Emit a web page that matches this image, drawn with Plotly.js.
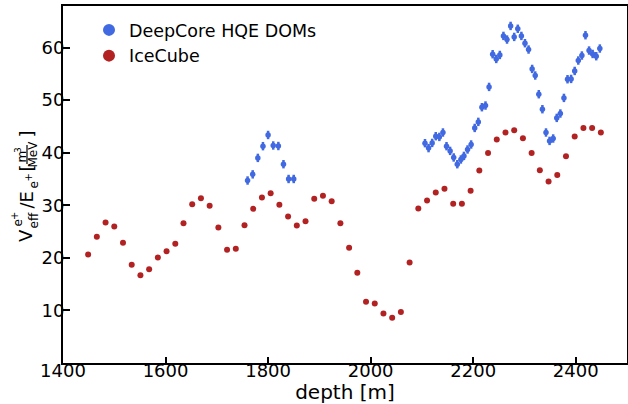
<!DOCTYPE html>
<html><head><meta charset="utf-8">
<script src="https://cdn.plot.ly/plotly-3.0.1.min.js"></script>
<style>html,body{margin:0;padding:0;background:#fff}</style>
</head><body>
<div id="chart" style="width:628px;height:404px"></div>
<script>
// IceCube DOMs
const depthIC = [1449,1466,1483,1500,1517,1534,1551,1568,1585,1602,1619,1635,1652,1669,1686,1703,1720,1737,1754,1771,1788,1805,1822,1839,1856,1873,1890,1907,1924,1941,1958,1974,1991,2008,2025,2042,2059,2076,2093,2110,2127,2144,2161,2178,2195,2212,2229,2246,2263,2280,2297,2314,2330,2347,2364,2381,2398,2415,2432,2449];
const effIC = [20.65,23.99,26.73,25.97,22.85,18.67,16.71,17.85,20.08,21.27,22.66,26.60,30.21,31.35,29.89,25.78,21.52,21.71,26.22,29.32,31.48,32.30,30.08,27.87,26.16,26.98,31.22,31.79,30.78,26.60,21.90,17.15,11.63,11.33,9.43,8.59,9.68,19.13,29.39,30.91,32.43,33.12,30.27,30.27,32.74,36.62,39.96,42.51,43.84,44.28,42.76,39.96,36.67,34.52,35.78,39.33,43.08,44.71,44.71,43.84];
// DeepCore HQE DOMs
const depthDC = [1760,1770,1780,1790,1800,1810,1820,1830,1840,1850,
  2106,2113,2120,2127,2134,2141,2148,2155,2162,2169,2176,2182,2189,2196,2203,2210,2217,2224,2231,2238,2245,2252,2259,2266,2273,2280,2287,2294,2301,2308,2315,2321,2328,2335,2342,2349,2356,2363,2370,2377,2384,2391,2398,2405,2412,2419,2426,2433,2440,2447];
const effDC = [34.71,35.88,39.01,41.24,43.37,41.37,41.27,37.81,35.00,35.00,
  41.81,40.87,41.86,43.14,43.00,43.84,41.24,40.34,39.09,37.81,38.71,39.39,40.61,41.56,44.71,45.86,48.65,48.97,52.51,58.73,57.83,58.59,62.21,61.52,64.11,62.02,63.57,62.21,60.82,59.62,55.93,54.68,51.12,48.27,43.84,42.24,42.70,46.62,47.45,50.42,53.97,54.03,55.55,57.53,58.48,62.34,59.43,58.78,58.35,59.81];
const errDC = 0.8;
const xTicks = [1400,1600,1800,2000,2200,2400];
const yTicks = [10,20,30,40,50,60];
const names = ['DeepCore HQE DOMs','IceCube'];
const blue = '#4169E1', red = '#B22222';

const L=63, T=6, W=564, H=357;
const px = x => (x-L)/W;
const py = y => (T+H-y)/H;
const FONT = 'DejaVu Sans';
function lab(text, x, y, size){
  return {text:text, xref:'paper', yref:'paper', x:px(x), y:py(y), xanchor:'center', yanchor:'middle',
    textangle:-90, showarrow:false, font:{family:FONT, size:size, color:'#000'}};
}
const dx = 1.5;
const annotations = [
  lab('V', 24.5+dx, 236, 18),
  lab('e', 16+dx, 223, 12),
  lab('+', 13+dx, 216.5, 10),
  lab('eff', 31.5+dx, 220.5, 12),
  lab('/E', 24.5+dx, 200.5, 18),
  lab('e', 32+dx, 185, 12),
  lab('+', 27+dx, 178, 10),
  lab('[', 24.5+dx, 168.5, 18),
  lab('m', 20+dx, 157, 12),
  lab('3', 16+dx, 150.5, 9),
  lab('MeV', 30.5+dx, 154.5, 12),
  lab(']', 24.5+dx, 134.5, 18)
];

const traces = [
  {x:depthDC, y:effDC, name:names[0], type:'scatter', mode:'markers',
   marker:{color:blue, size:5.5},
   error_y:{type:'constant', value:errDC, color:blue, thickness:2.5, width:0}},
  {x:depthIC, y:effIC, name:names[1], type:'scatter', mode:'markers',
   marker:{color:red, size:6}}
];
const axisCommon = {showline:true, linewidth:2, linecolor:'#000', mirror:true, showgrid:false, zeroline:false,
  ticks:'inside', ticklen:7, tickwidth:2, tickcolor:'#000', tickfont:{family:FONT, size:18, color:'#000'}};
const layout = {
  width:628, height:404,
  margin:{l:L, r:628-L-W, t:T, b:404-T-H, pad:0},
  paper_bgcolor:'#fff', plot_bgcolor:'#fff',
  font:{family:FONT, color:'#000'},
  showlegend:true,
  legend:{x:px(89), y:py(12), xanchor:'left', yanchor:'top', bgcolor:'rgba(0,0,0,0)', borderwidth:0,
    font:{family:FONT, size:17.5, color:'#000'}, itemsizing:'constant', tracegroupgap:0},
  xaxis:Object.assign({}, axisCommon, {range:[1400,2500], tickvals:xTicks, ticktext:xTicks.map(String),
    ticklen:6, ticklabelstandoff:-10,
    title:{text:'depth [m]', font:{family:FONT, size:20, color:'#000'}, standoff:0}}),
  yaxis:Object.assign({}, axisCommon, {range:[0,67.9], tickvals:yTicks, ticktext:yTicks.map(String),
    ticklabelstandoff:-7}),
  annotations:annotations,
  shapes:[{type:'line', xref:'paper', yref:'paper', x0:px(25.5+dx), x1:px(25.5+dx), y0:py(145), y1:py(164),
    line:{color:'#000', width:1.2}}]
};
Plotly.newPlot('chart', traces, layout, {displayModeBar:false, staticPlot:true});
</script>
</body></html>
